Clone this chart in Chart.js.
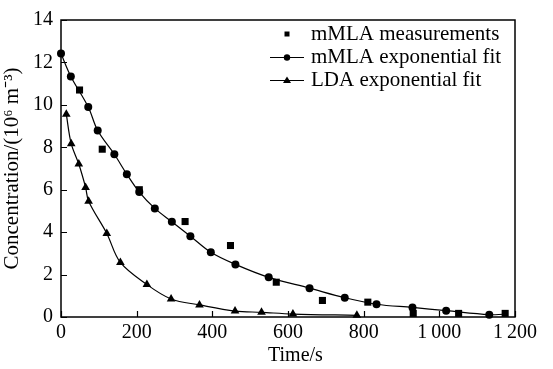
<!DOCTYPE html>
<html>
<head>
<meta charset="utf-8">
<script src="https://cdn.jsdelivr.net/npm/chart.js@4.4.1/dist/chart.umd.min.js"></script>
<style>
  html, body { margin: 0; padding: 0; background: #fff; }
  #wrap { width: 553px; height: 369px; position: relative; }
</style>
</head>
<body>
<div id="wrap"><canvas id="c" width="553" height="369"></canvas></div>
<script>
// mMLA measurements (time in s, concentration in 10^6 m^-3)
const measTime = [49, 109, 207, 328, 448, 569, 691, 811, 931, 1051, 1174];
const measConc = [10.70, 7.91, 6.00, 4.50, 3.37, 1.64, 0.78, 0.70, 0.17, 0.17, 0.17];

// mMLA exponential fit (last point closes the curve, no marker)
const mmlaFitTime = [0, 26, 72, 97, 141, 174, 207, 248, 293, 342, 396, 461, 549, 657, 750, 834, 929, 1018, 1132, 1170];
const mmlaFitConc = [12.42, 11.34, 9.90, 8.79, 7.67, 6.73, 5.89, 5.12, 4.49, 3.81, 3.05, 2.48, 1.87, 1.36, 0.91, 0.60, 0.45, 0.30, 0.11, 0.13];

// LDA exponential fit
const ldaFitTime = [14, 27, 47, 65, 73, 121, 157, 227, 291, 366, 460, 530, 613, 782];
const ldaFitConc = [9.56, 8.17, 7.21, 6.11, 5.46, 3.94, 2.57, 1.53, 0.85, 0.57, 0.28, 0.22, 0.14, 0.08];

const seriesNames = ['mMLA measurements', 'mMLA exponential fit', 'LDA exponential fit'];
const xTicks = [0, 200, 400, 600, 800, 1000, 1200];
const yTicks = [0, 2, 4, 6, 8, 10, 12, 14];
const xTitle = 'Time/s';
const yTitle = 'Concentration/(10\u2076 m\u207B\u00B3)';

const FONT = 'Liberation Serif, Times New Roman, serif';

function pts(xs, ys) { return xs.map((x, i) => ({ x: x, y: ys[i] })); }

// Plot box, inward ticks, x title and the in-plot legend
const framePlugin = {
  id: 'frame',
  afterDraw(chart) {
    const ctx = chart.ctx;
    const a = chart.chartArea;
    const xs = chart.scales.x, ys = chart.scales.y;
    ctx.save();
    ctx.strokeStyle = '#000';
    ctx.lineWidth = 1.5;
    ctx.strokeRect(a.left, a.top, a.right - a.left, a.bottom - a.top);
    ctx.lineWidth = 1.2;
    ctx.beginPath();
    xTicks.forEach(v => {
      const px = Math.round(xs.getPixelForValue(v)) + 0.5;
      ctx.moveTo(px, a.bottom); ctx.lineTo(px, a.bottom - 6);
    });
    yTicks.forEach(v => {
      const py = Math.round(ys.getPixelForValue(v)) + 0.5;
      ctx.moveTo(a.left, py); ctx.lineTo(a.left + 6, py);
    });
    ctx.stroke();

    ctx.fillStyle = '#000';
    ctx.font = '20px ' + FONT;
    ctx.textAlign = 'left';
    ctx.textBaseline = 'alphabetic';
    ctx.fillText(xTitle, 268, 361);

    // legend
    const lx = 287, tx = 311, rows = [34, 57, 80];
    ctx.font = '21px ' + FONT;
    ctx.textBaseline = 'middle';
    rows.forEach((ry, i) => {
      if (i > 0) {
        ctx.lineWidth = 1.2;
        ctx.beginPath();
        ctx.moveTo(270, ry + 0.5); ctx.lineTo(304, ry + 0.5);
        ctx.stroke();
      }
      ctx.beginPath();
      if (i === 0) {
        ctx.rect(lx - 2.5, ry - 2.5, 5, 5);
      } else if (i === 1) {
        ctx.arc(lx, ry + 0.5, 3.2, 0, Math.PI * 2);
      } else {
        ctx.moveTo(lx, ry - 3.5); ctx.lineTo(lx + 4, ry + 3); ctx.lineTo(lx - 4, ry + 3); ctx.closePath();
      }
      ctx.fill();
      ctx.fillText(seriesNames[i], tx, ry);
    });
    ctx.restore();
  }
};

new Chart(document.getElementById('c'), {
  type: 'scatter',
  data: {
    datasets: [
      {
        label: seriesNames[0],
        data: pts(measTime, measConc),
        showLine: false,
        pointStyle: 'rect',
        pointRadius: 5,
        backgroundColor: '#000',
        borderColor: '#000',
        borderWidth: 0
      },
      {
        label: seriesNames[1],
        data: pts(mmlaFitTime, mmlaFitConc),
        showLine: true,
        tension: 0.35,
        borderColor: '#000',
        borderWidth: 1.2,
        pointStyle: 'circle',
        pointRadius: mmlaFitTime.map((t, i) => i === mmlaFitTime.length - 1 ? 0 : 4),
        pointBackgroundColor: '#000',
        pointBorderWidth: 0
      },
      {
        label: seriesNames[2],
        data: pts(ldaFitTime, ldaFitConc),
        showLine: true,
        tension: 0.35,
        borderColor: '#000',
        borderWidth: 1.2,
        pointStyle: 'triangle',
        pointRadius: 5,
        pointBackgroundColor: '#000',
        pointBorderWidth: 0
      }
    ]
  },
  options: {
    responsive: false,
    animation: false,
    clip: false,
    layout: { padding: { top: 15, right: 38, left: 0, bottom: 0 } },
    plugins: { legend: { display: false }, tooltip: { enabled: false } },
    scales: {
      x: {
        type: 'linear',
        min: 0, max: 1200,
        afterFit(s) { s.height = 52; },
        afterBuildTicks(s) { s.ticks = xTicks.map(v => ({ value: v })); },
        grid: { display: false, drawTicks: false },
        border: { display: false },
        ticks: {
          color: '#000',
          font: { family: FONT, size: 20 },
          padding: 4,
          maxRotation: 0,
          callback: v => v >= 1000 ? Math.floor(v / 1000) + '\u2009' + String(v % 1000).padStart(3, '0') : String(v)
        }
      },
      y: {
        type: 'linear',
        min: 0, max: 14,
        afterFit(s) { s.width = 61; },
        afterBuildTicks(s) { s.ticks = yTicks.map(v => ({ value: v })); },
        grid: { display: false, drawTicks: false },
        border: { display: false },
        ticks: {
          color: '#000',
          font: { family: FONT, size: 20 },
          padding: 8
        },
        title: {
          display: true,
          text: yTitle,
          color: '#000',
          font: { family: FONT, size: 21 },
          padding: { top: 0, bottom: 0 }
        }
      }
    }
  },
  plugins: [framePlugin]
});
</script>
</body>
</html>
